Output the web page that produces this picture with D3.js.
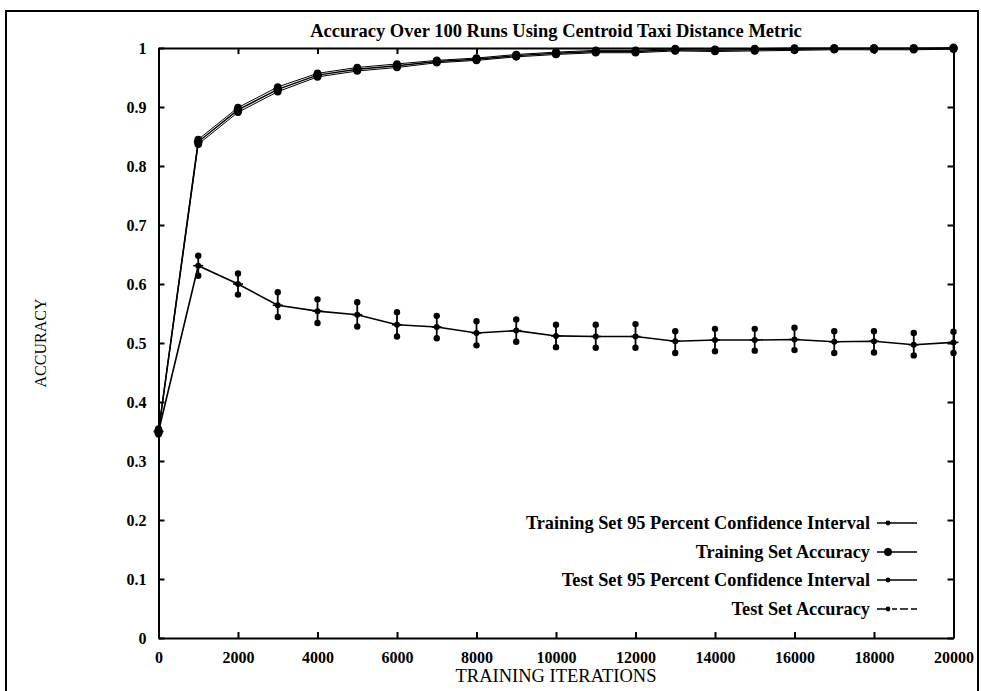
<!DOCTYPE html>
<html>
<head>
<meta charset="utf-8">
<script src="https://cdn.jsdelivr.net/npm/d3@7"></script>
<style>
  html, body { margin: 0; padding: 0; background: #fff; }
  svg { display: block; }
  text { font-family: "Liberation Serif", "Times New Roman", serif; fill: #000; }
</style>
</head>
<body>
<svg id="chart" width="981" height="691"></svg>
<script>
// Training iterations sampled every 1000 steps
const iterations = [0, 1000, 2000, 3000, 4000, 5000, 6000, 7000, 8000, 9000, 10000,
  11000, 12000, 13000, 14000, 15000, 16000, 17000, 18000, 19000, 20000];

// Training set: mean accuracy and 95% confidence bounds
const trainAcc = [0.350, 0.841, 0.895, 0.930, 0.954, 0.964, 0.970, 0.977, 0.981, 0.987, 0.991,
  0.994, 0.994, 0.997, 0.996, 0.997, 0.998, 0.999, 0.999, 0.999, 1.000];
const trainLo = [0.347, 0.837, 0.891, 0.926, 0.951, 0.961, 0.967, 0.975, 0.979, 0.985, 0.989,
  0.992, 0.992, 0.995, 0.994, 0.995, 0.996, 0.997, 0.997, 0.997, 0.998];
const trainHi = [0.353, 0.845, 0.899, 0.934, 0.957, 0.967, 0.973, 0.979, 0.983, 0.989, 0.993,
  0.996, 0.996, 0.999, 0.998, 0.999, 1.000, 1.000, 1.000, 1.000, 1.000];

// Test set: mean accuracy and 95% confidence bounds
const testAcc = [0.350, 0.631, 0.600, 0.564, 0.554, 0.548, 0.531, 0.527, 0.517, 0.521, 0.512,
  0.511, 0.511, 0.503, 0.505, 0.505, 0.506, 0.502, 0.503, 0.497, 0.501];
const testHi = [0.355, 0.648, 0.618, 0.586, 0.574, 0.569, 0.552, 0.546, 0.537, 0.540, 0.531,
  0.531, 0.532, 0.520, 0.524, 0.524, 0.526, 0.520, 0.520, 0.517, 0.519];
const testLo = [0.345, 0.614, 0.582, 0.544, 0.534, 0.528, 0.511, 0.508, 0.496, 0.502, 0.493,
  0.492, 0.492, 0.483, 0.486, 0.487, 0.488, 0.483, 0.484, 0.479, 0.483];

// Axis ticks
const xTicks = [0, 2000, 4000, 6000, 8000, 10000, 12000, 14000, 16000, 18000, 20000];
const yTicks = [0, 0.1, 0.2, 0.3, 0.4, 0.5, 0.6, 0.7, 0.8, 0.9, 1];

const legendLabels = [
  "Training Set 95 Percent Confidence Interval",
  "Training Set Accuracy",
  "Test Set 95 Percent Confidence Interval",
  "Test Set Accuracy"
];

const titleText = "Accuracy Over 100 Runs Using Centroid Taxi Distance Metric";

const svg = d3.select("#chart");
const plot = { left: 158.5, right: 953.5, top: 48, bottom: 638 };

const x = d3.scaleLinear().domain([0, 20000]).range([plot.left, plot.right]);
const y = d3.scaleLinear().domain([0, 1]).range([plot.bottom, plot.top]);

// Outer page frame
svg.append("path")
  .attr("d", `M6,700 L6,11 L978,11 L978,700`)
  .attr("fill", "none").attr("stroke", "#000").attr("stroke-width", 2);

// Title
svg.append("text")
  .attr("x", (plot.left + plot.right) / 2).attr("y", 37)
  .attr("text-anchor", "middle")
  .attr("font-size", 18.5).attr("font-weight", "bold")
  .text(titleText);

// Axes with inward ticks on all four sides
const tickLen = 6;
const axisBottom = d3.axisBottom(x).tickValues(xTicks).tickSizeInner(-tickLen).tickSizeOuter(0).tickPadding(14).tickFormat(d3.format("d"));
const axisTop = d3.axisTop(x).tickValues(xTicks).tickSizeInner(-tickLen).tickSizeOuter(0).tickFormat("");
const axisLeft = d3.axisLeft(y).tickValues(yTicks).tickSizeInner(-tickLen).tickSizeOuter(0).tickPadding(12).tickFormat(d => d3.format("")(+d.toFixed(1)));
const axisRight = d3.axisRight(y).tickValues(yTicks).tickSizeInner(-tickLen).tickSizeOuter(0).tickFormat("");

function styleAxis(g) {
  g.select(".domain").attr("stroke", "#000").attr("stroke-width", 2);
  g.selectAll(".tick line").attr("stroke", "#000").attr("stroke-width", 2);
  g.selectAll(".tick text")
    .attr("font-family", "\"Liberation Serif\", \"Times New Roman\", serif")
    .attr("font-size", 16).attr("font-weight", "bold").attr("fill", "#000");
}

svg.append("g").attr("transform", `translate(0,${plot.bottom})`).call(axisBottom).call(styleAxis);
svg.append("g").attr("transform", `translate(0,${plot.top})`).call(axisTop).call(styleAxis);
svg.append("g").attr("transform", `translate(${plot.left},0)`).call(axisLeft).call(styleAxis);
svg.append("g").attr("transform", `translate(${plot.right},0)`).call(axisRight).call(styleAxis);

// Axis titles
svg.append("text")
  .attr("x", (plot.left + plot.right) / 2).attr("y", 682)
  .attr("text-anchor", "middle").attr("font-size", 18.5)
  .text("TRAINING ITERATIONS");

svg.append("text")
  .attr("transform", `translate(46,${(plot.top + plot.bottom) / 2}) rotate(-90)`)
  .attr("text-anchor", "middle").attr("font-size", 16)
  .text("ACCURACY");

const line = d3.line().x((d, i) => x(iterations[i])).y(d => y(d));
const g = svg.append("g");

// Training confidence bounds: two thin lines with small dots
[trainLo, trainHi].forEach(arr => {
  g.append("path").attr("d", line(arr)).attr("fill", "none").attr("stroke", "#000").attr("stroke-width", 1);
  g.selectAll(null).data(arr).enter().append("circle")
    .attr("cx", (d, i) => x(iterations[i])).attr("cy", d => y(d)).attr("r", 3.8).attr("fill", "#000");
});

// Training mean accuracy
g.append("path").attr("d", line(trainAcc)).attr("fill", "none").attr("stroke", "#000").attr("stroke-width", 1.4);
g.selectAll(null).data(trainAcc).enter().append("circle")
  .attr("cx", (d, i) => x(iterations[i])).attr("cy", d => y(d)).attr("r", 4.4).attr("fill", "#000");

// Test confidence interval as error bars
g.selectAll(null).data(iterations).enter().append("line")
  .attr("x1", d => x(d)).attr("x2", d => x(d))
  .attr("y1", (d, i) => y(testLo[i])).attr("y2", (d, i) => y(testHi[i]))
  .attr("stroke", "#000").attr("stroke-width", 1.8);
[testLo, testHi].forEach(arr => {
  g.selectAll(null).data(arr).enter().append("circle")
    .attr("cx", (d, i) => x(iterations[i])).attr("cy", d => y(d)).attr("r", 3.2).attr("fill", "#000");
});

// Test mean accuracy
g.append("path").attr("d", line(testAcc)).attr("fill", "none").attr("stroke", "#000").attr("stroke-width", 1.6);
g.selectAll(null).data(testAcc).enter().append("circle")
  .attr("cx", (d, i) => x(iterations[i])).attr("cy", d => y(d)).attr("r", 3).attr("fill", "#000");
g.selectAll(null).data(testAcc).enter().append("line")
  .attr("x1", (d, i) => x(iterations[i]) - 5).attr("x2", (d, i) => x(iterations[i]) + 5)
  .attr("y1", d => y(d)).attr("y2", d => y(d))
  .attr("stroke", "#000").attr("stroke-width", 1.6);

// Legend
const legendY = [523, 552, 580, 609];
const legendTextX = 870;
const legend = svg.append("g");
legendLabels.forEach((lab, i) => {
  const yy = legendY[i];
  legend.append("text")
    .attr("x", legendTextX).attr("y", yy + 6)
    .attr("text-anchor", "end").attr("font-size", 18.3).attr("font-weight", "bold")
    .text(lab);
  legend.append("line")
    .attr("x1", 877).attr("x2", 917).attr("y1", yy).attr("y2", yy)
    .attr("stroke", "#000").attr("stroke-width", 1.5)
    .attr("stroke-dasharray", i === 3 ? "12,3,5,3,8,3" : null);
  legend.append("circle")
    .attr("cx", 888).attr("cy", yy).attr("r", i === 1 ? 4 : 2.4).attr("fill", "#000");
});
</script>
</body>
</html>
